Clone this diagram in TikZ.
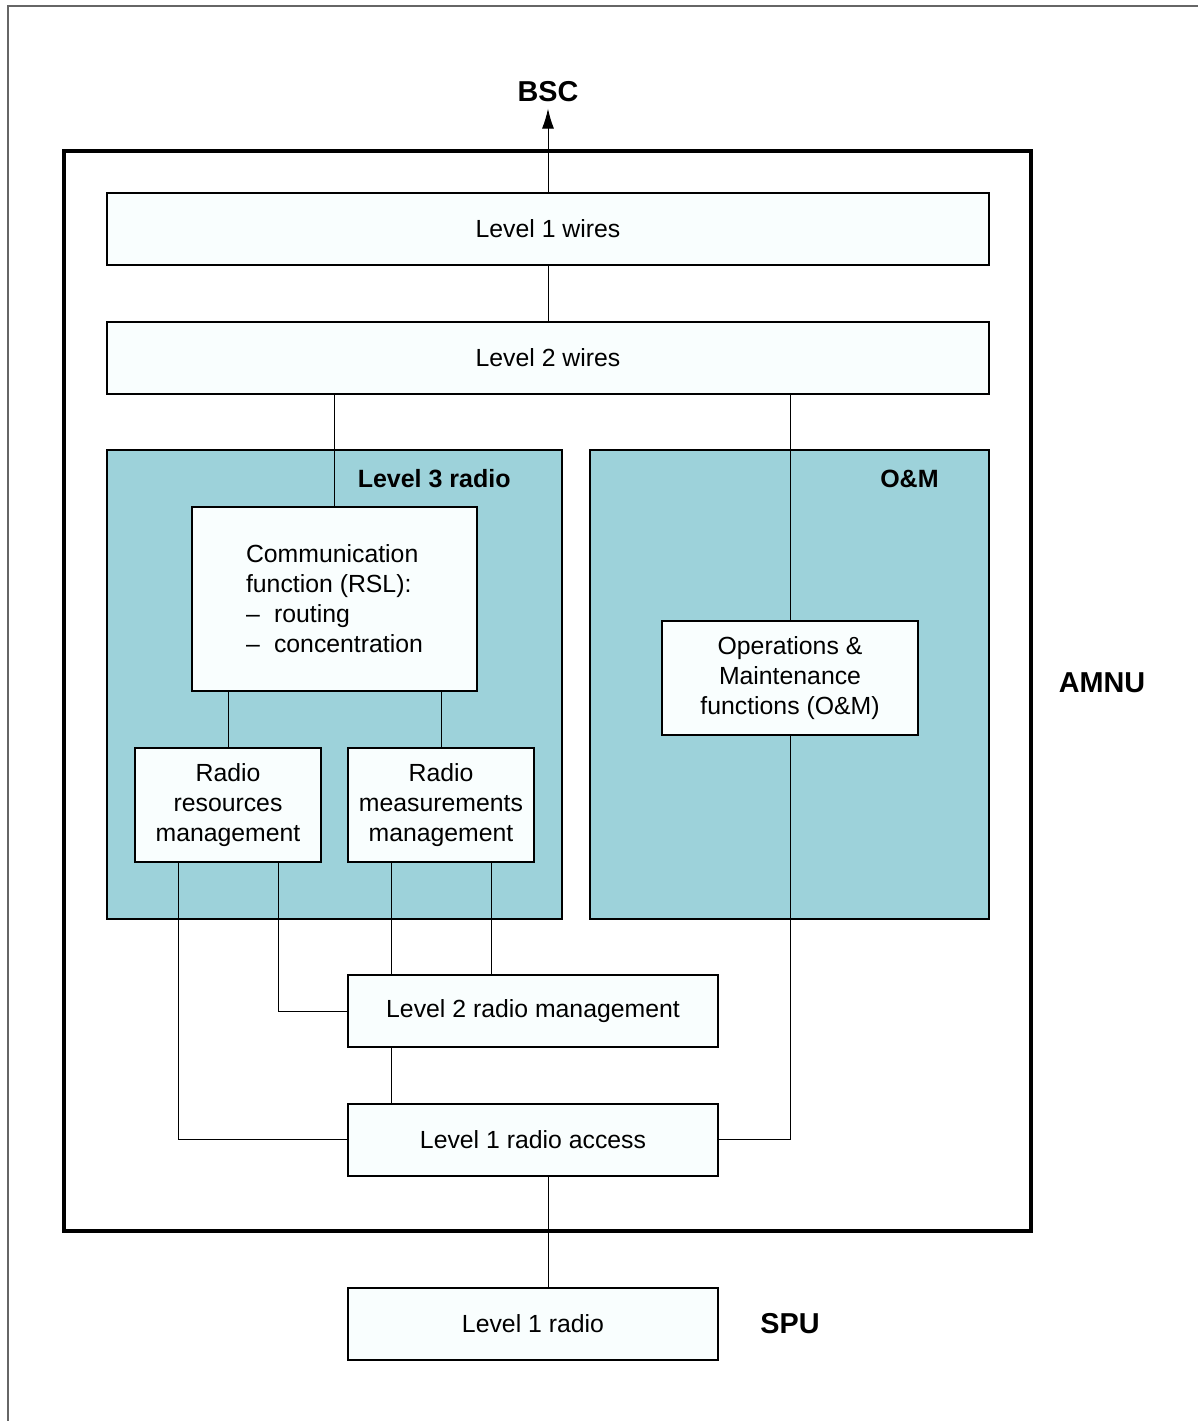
\documentclass[tikz,border=0pt]{standalone}
\usepackage{fontspec}
\setmainfont{Liberation Sans}
\usetikzlibrary{arrows.meta}
\definecolor{bleu}{RGB}{157,210,218}
\definecolor{fond}{RGB}{249,254,254}

\begin{document}
\begin{tikzpicture}[x=0.5pt,y=-0.5pt,
  bloc/.style={draw, line width=1pt, fill=fond, inner sep=0pt, align=center,
    font=\fontsize{12.4}{15}\selectfont},
  zone/.style={draw, line width=1pt, fill=bleu, inner sep=0pt},
  titre/.style={font=\fontsize{12.5}{15}\selectfont\bfseries, inner sep=0pt, anchor=east},
  grand/.style={font=\fontsize{14.4}{17}\selectfont\bfseries, inner sep=3pt},
  lien/.style={line width=0.5pt}]

\useasboundingbox (0,0) rectangle (1198,1421);
\draw[gray!80!black, line width=0.8pt] (8,1421) -- (8,6) -- (1198,6); % le cadre

% le bloc AMNU
\node[draw, line width=1.8pt, minimum width=483.5pt, minimum height=540pt] (amnu) at (547.5,691) {};

\node[bloc, minimum width=441pt, minimum height=36pt] (l1w) at (548,229) {Level 1 wires};
\node[bloc, minimum width=441pt, minimum height=36pt] (l2w) at (548,357.5) {Level 2 wires};

% les deux zones
\node[zone, minimum width=227.5pt, minimum height=234.5pt] (l3r) at (334.5,684.5) {};
\node[zone, minimum width=199.5pt, minimum height=234.5pt] (omz) at (789.5,684.5) {};
\node[titre] (t3) at ([xshift=-26pt,yshift=-15pt]l3r.north east) {Level 3 radio};
\node[titre] (tom) at ([xshift=-25.5pt,yshift=-15pt]omz.north east) {O\&M};

\node[bloc, align=left, minimum width=142.5pt, minimum height=92pt] (comm) at (334.5,599)
  {Communication\\function (RSL):\\\makebox[14pt][l]{--}routing\\\makebox[14pt][l]{--}concentration};
\node[bloc, minimum width=93pt, minimum height=57pt] (rrm) at (228,805) {Radio\\resources\\management};
\node[bloc, minimum width=93pt, minimum height=57pt] (rmm) at (441,805) {Radio\\measurements\\management};
\node[bloc, minimum width=128pt, minimum height=57pt] (omf) at (790,678) {Operations \&\\Maintenance\\functions (O\&M)};

\node[bloc, minimum width=185pt, minimum height=36pt] (l2rm) at (533,1011) {Level 2 radio management};
\node[bloc, minimum width=185pt, minimum height=36pt] (l1ra) at (533,1139.5) {Level 1 radio access};
\node[bloc, minimum width=185pt, minimum height=36pt] (l1r) at (533,1324) {Level 1 radio};

\node[grand] (bsc) at (548,92) {BSC};
\node[grand] (amnul) at (1102,683) {AMNU};
\node[grand] (spu) at (790,1324) {SPU};

% les liaisons
\draw[lien, -{Latex[length=10pt,width=6pt]}] (l1w.north) -- (bsc.south);
\draw[lien] (l1w.south) -- (l2w.north);
\draw[lien] (l2w.south -| comm.north) -- (comm.north);
\draw[lien] (l2w.south -| omf.north) -- (omf.north);
\draw[lien] (comm.south -| rrm.north) -- (rrm.north);
\draw[lien] (comm.south -| rmm.north) -- (rmm.north);
\draw[lien] ([xshift=-25pt]rrm.south) |- (l1ra.west);
\draw[lien] ([xshift=25pt]rrm.south) |- (l2rm.west);
\draw[lien] ([xshift=-25pt]rmm.south) -- ([xshift=-25pt]rmm.south |- l2rm.north);
\draw[lien] ([xshift=25pt]rmm.south) -- ([xshift=25pt]rmm.south |- l2rm.north);
\draw[lien] ([xshift=-25pt]rmm.south |- l2rm.south) -- ([xshift=-25pt]rmm.south |- l1ra.north);
\draw[lien] (omf.south) |- (l1ra.east);
\draw[lien] (l1ra.south -| l1w.south) -- (l1r.north -| l1w.south);
\end{tikzpicture}
\end{document}
